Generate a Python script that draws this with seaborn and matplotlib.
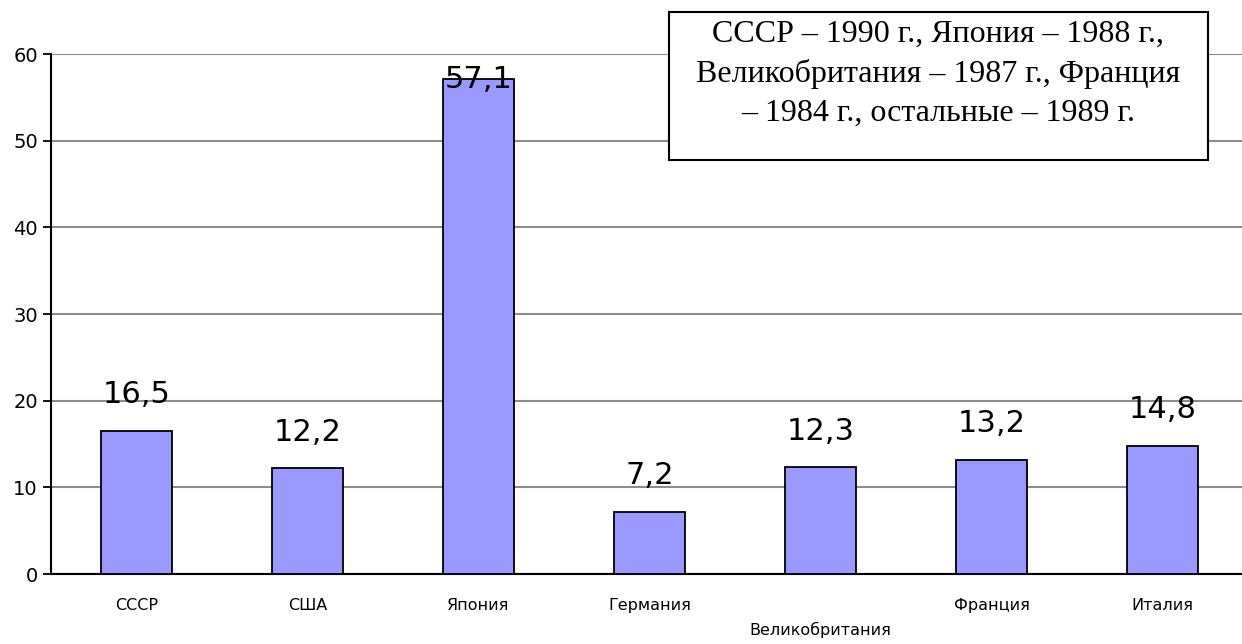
import matplotlib
matplotlib.use("Agg")
import matplotlib.pyplot as plt
import seaborn as sns
import numpy as np
import pandas as pd
from matplotlib.patches import Rectangle

categories = ["СССР", "США", "Япония", "Германия", "Великобритания", "Франция", "Италия"]
values = [16.5, 12.2, 57.1, 7.2, 12.3, 13.2, 14.8]
value_labels = ["16,5", "12,2", "57,1", "7,2", "12,3", "13,2", "14,8"]
yticks = [0, 10, 20, 30, 40, 50, 60]
note = "СССР – 1990 г., Япония – 1988 г.,\nВеликобритания – 1987 г., Франция\n– 1984 г., остальные – 1989 г."

sns.set_style("white")
plt.rcParams['font.family'] = ['DejaVu Sans']
plt.rcParams['text.color'] = 'black'
plt.rcParams['xtick.color'] = 'black'
plt.rcParams['ytick.color'] = 'black'

W, H = 1242, 644
fig = plt.figure(figsize=(W / 100, H / 100), dpi=100)
ax = fig.add_axes([51 / W, (H - 574) / H, (1248 - 51) / W, (574 - 54) / H])

df = pd.DataFrame({"cat": categories, "val": values})
sns.barplot(data=df, x="cat", y="val", color="#9999FF", edgecolor="black",
            linewidth=1.3, width=0.41, saturation=1, ax=ax, zorder=3)

ax.set_xlim(-0.5, len(categories) - 0.5)
ax.set_ylim(0, 60)
ax.set_yticks(yticks)
ax.set_yticklabels([str(t) for t in yticks], fontsize=14, color="black")
ax.yaxis.grid(True, color="#8c8c8c", linewidth=1.5, zorder=0)
ax.xaxis.grid(False)

# category labels (Великобритания staggered lower)
ax.set_xticks(range(len(categories)))
ax.set_xticklabels([])
ax.tick_params(axis="x", which="major", length=0)
for i, c in enumerate(categories):
    dy = -40 if c == "Великобритания" else -23
    ax.annotate(c, (i, 0), xytext=(0, dy), textcoords="offset points",
                ha="center", va="center", fontsize=11.5, color="black",
                annotation_clip=False)
ax.set_xticks(np.arange(-0.5, len(categories), 1.0), minor=True)
ax.tick_params(axis="x", which="minor", length=6, width=1.3, color="black", direction="out")
ax.tick_params(axis="y", length=6, width=1.3, color="black", direction="out", left=True)

for s in ["top", "right"]:
    ax.spines[s].set_visible(False)
for s in ["left", "bottom"]:
    ax.spines[s].set_color("black")
    ax.spines[s].set_linewidth(1.5)
ax.set_xlabel("")
ax.set_ylabel("")

for i, (v, lab) in enumerate(zip(values, value_labels)):
    y = min(v + 2.5, 55.4)
    ax.text(i, y, lab, ha="center", va="bottom", fontsize=22, color="black", zorder=5)

fig.text(938 / W, 1 - 74 / H, note, ha="center", va="center", fontsize=23,
         family=["Liberation Serif", "DejaVu Serif"], linespacing=1.45,
         color="black", zorder=10)
box = Rectangle((669 / W, 1 - 160 / H), (1208 - 669) / W, (160 - 12) / H,
                transform=fig.transFigure, facecolor="white", edgecolor="black",
                linewidth=1.5, zorder=9)
fig.patches.append(box)

fig.savefig("out.png", dpi=100)
